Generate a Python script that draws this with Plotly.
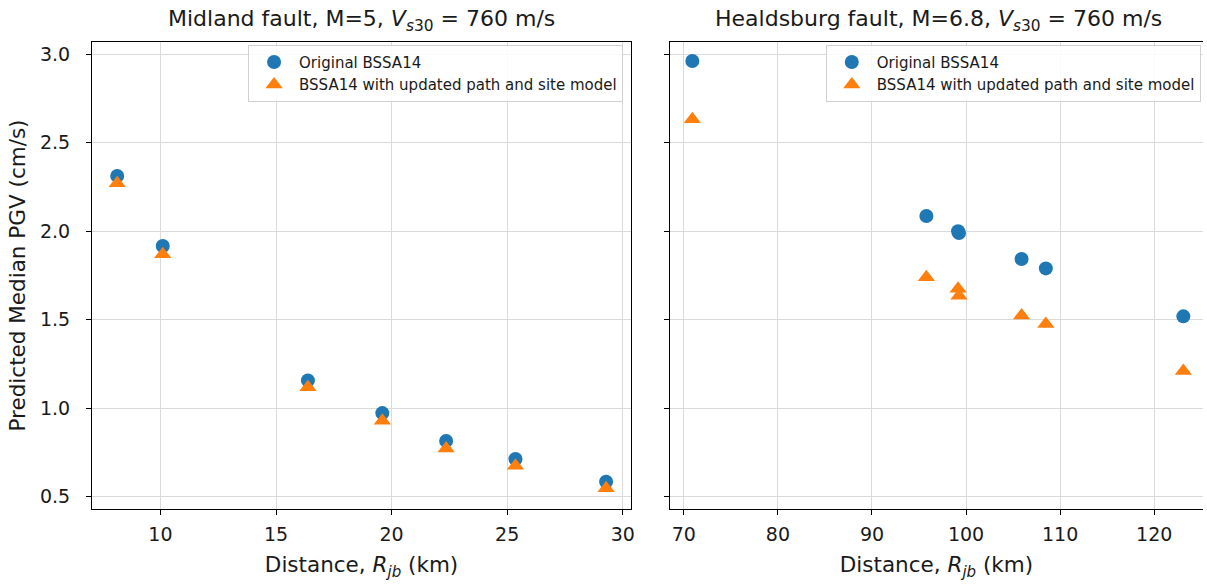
import plotly.graph_objects as go

# Midland fault (M=5)
mid_dist_orig = [8.13, 10.1, 16.38, 19.6, 22.36, 25.36, 29.28]
mid_pgv_orig = [2.313, 1.917, 1.157, 0.972, 0.815, 0.713, 0.584]
mid_dist_upd = [8.13, 10.1, 16.38, 19.6, 22.36, 25.36, 29.28]
mid_pgv_upd = [2.272, 1.870, 1.118, 0.929, 0.772, 0.674, 0.547]

# Healdsburg fault (M=6.8)
hea_dist_orig = [70.9, 95.78, 99.15, 99.25, 105.9, 108.48, 123.1]
hea_pgv_orig = [2.963, 2.086, 2.000, 1.990, 1.843, 1.790, 1.519]
hea_dist_upd = [70.9, 95.78, 99.15, 99.25, 105.9, 108.48, 123.1]
hea_pgv_upd = [2.633, 1.740, 1.675, 1.635, 1.524, 1.476, 1.210]

left_xticks = [10, 15, 20, 25, 30]
right_xticks = [70, 80, 90, 100, 110, 120]
yticks = [0.5, 1.0, 1.5, 2.0, 2.5, 3.0]

label_orig = "Original BSSA14"
label_upd = "BSSA14 with updated path and site model"
titles = ["Midland fault, M=5, <i>V</i><sub><i>s</i>30</sub> = 760 m/s",
          "Healdsburg fault, M=6.8, <i>V</i><sub><i>s</i>30</sub> = 760 m/s"]
xlabel = "Distance, <i>R</i><sub><i>jb</i></sub> (km)"
ylabel = "Predicted Median PGV (cm/s)"

BLUE = "#1f77b4"
ORANGE = "#ff7f0e"
FONT = "DejaVu Sans"
TXT = "#1a1a1a"

fig = go.Figure()

fig.add_trace(go.Scatter(x=mid_dist_orig, y=mid_pgv_orig, mode="markers", name=label_orig,
                         marker=dict(symbol="circle", size=14, color=BLUE),
                         xaxis="x", yaxis="y", legend="legend"))
fig.add_trace(go.Scatter(x=mid_dist_upd, y=mid_pgv_upd, mode="markers", name=label_upd,
                         marker=dict(symbol="triangle-up", size=15, color=ORANGE),
                         xaxis="x", yaxis="y", legend="legend"))
fig.add_trace(go.Scatter(x=hea_dist_orig, y=hea_pgv_orig, mode="markers", name=label_orig,
                         marker=dict(symbol="circle", size=14, color=BLUE),
                         xaxis="x2", yaxis="y2", legend="legend2"))
fig.add_trace(go.Scatter(x=hea_dist_upd, y=hea_pgv_upd, mode="markers", name=label_upd,
                         marker=dict(symbol="triangle-up", size=15, color=ORANGE),
                         xaxis="x2", yaxis="y2", legend="legend2"))

axis_common = dict(showline=True, linecolor="black", linewidth=1.2,
                   ticks="outside", ticklen=5, tickcolor="black",
                   showgrid=True, gridcolor="#dadada", gridwidth=1, zeroline=False,
                   tickfont=dict(family=FONT, size=19, color=TXT))

left_dom = [0.0, 0.4852]
right_dom = [0.5202, 1.0]

legend_common = dict(bgcolor="rgba(255,255,255,0.85)", bordercolor="#d0d0d0", borderwidth=1,
                     font=dict(family=FONT, size=15, color=TXT),
                     xanchor="right", yanchor="top", itemsizing="trace",
                     itemwidth=40, tracegroupgap=0)

title_font = dict(family=FONT, size=21.5, color=TXT)

fig.update_layout(
    width=1207, height=584,
    margin=dict(l=92, r=0, t=42, b=75),
    paper_bgcolor="white", plot_bgcolor="white",
    font=dict(family=FONT, size=16, color=TXT),
    showlegend=True,
    xaxis=dict(domain=left_dom, range=[7.04, 30.36], tickvals=left_xticks,
               ticklabelstandoff=3, mirror=True,
               title=dict(text=xlabel, font=title_font, standoff=13),
               anchor="y", **axis_common),
    yaxis=dict(domain=[0, 1], range=[0.43, 3.07], tickvals=yticks, tickformat=".1f",
               ticklabelstandoff=12, mirror=True,
               title=dict(text=ylabel, font=title_font, standoff=8),
               anchor="x", **axis_common),
    xaxis2=dict(domain=right_dom, range=[68.52, 125.19], tickvals=right_xticks,
                ticklabelstandoff=3, mirror=True,
                title=dict(text=xlabel, font=title_font, standoff=13),
                anchor="y2", **axis_common),
    yaxis2=dict(domain=[0, 1], range=[0.43, 3.07], tickvals=yticks, showticklabels=False,
                mirror=False, anchor="x2", matches="y", **axis_common),
    legend=dict(x=0.478, y=0.994, **legend_common),
    legend2=dict(x=0.998, y=0.994, **legend_common),
    annotations=[
        dict(text=titles[0], x=sum(left_dom) / 2, y=1.0, xref="paper", yref="paper",
             xanchor="center", yanchor="bottom", yshift=5, showarrow=False,
             font=dict(family=FONT, size=22, color=TXT)),
        dict(text=titles[1], x=(0.5202 + (1158 + 53 - 92) / 1115) / 2, y=1.0,
             xref="paper", yref="paper",
             xanchor="center", yanchor="bottom", yshift=5, showarrow=False,
             font=dict(family=FONT, size=22, color=TXT)),
    ],
)

fig.write_html("out.html")
